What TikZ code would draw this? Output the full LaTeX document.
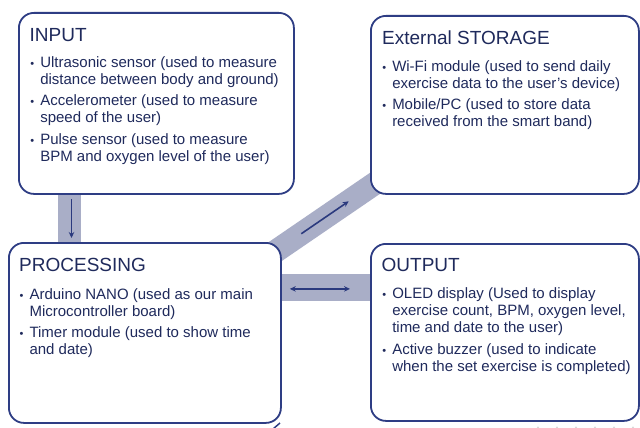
\documentclass[tikz,border=0pt]{standalone}
\usepackage{fontspec}
\setmainfont{Liberation Sans}
\usetikzlibrary{arrows.meta,calc,backgrounds}
\definecolor{navy}{HTML}{2E3D84}
\definecolor{ink}{HTML}{1F2A5C}
\definecolor{bandc}{HTML}{A9AEC7}
\definecolor{arrowc}{HTML}{2B3A7E}
\newcommand\bul{{\fontsize{11}{11}\selectfont\textbullet}}
\begin{document}
\begin{tikzpicture}[x=1pt,y=-1pt,
  panel/.style={draw=navy,line width=1.8pt,rounded corners=15pt,fill=white,inner sep=0pt,anchor=north west},
  title/.style={anchor=base west,inner sep=0pt,text=ink,font=\fontsize{19}{22}\selectfont},
  body/.style={anchor=base west,inner sep=0pt,text=ink,font=\fontsize{15}{17}\selectfont},
  band/.style={draw=bandc,line cap=butt},
  flow/.style={draw=arrowc,line width=1.6pt,-{Stealth[length=6pt,width=5.5pt]}},
  flow2/.style={draw=arrowc,line width=1.6pt,{Stealth[length=6pt,width=5.5pt]}-{Stealth[length=6pt,width=5.5pt]}}]
\useasboundingbox (0,0) rectangle (640,428);

% panels
\node[panel,minimum width=275pt,minimum height=181pt] (input) at (18,12) {};
\node[panel,minimum width=268pt,minimum height=178pt] (stor) at (370,15) {};
\node[panel,minimum width=272pt,minimum height=180pt] (proc) at (8,242) {};
\node[panel,minimum width=268pt,minimum height=177pt] (out) at (370,243) {};

% bands behind panels
\begin{scope}[on background layer]
\fill[white] (0,0) rectangle (640,428);
\coordinate (v1) at ($(input.south west)+(51.5,-5)$);
\coordinate (v2) at ($(proc.north west)+(61.5,5)$);
\coordinate (d1) at ($(proc.north east)+(-16,16)$);
\coordinate (d2) at ($(stor.south west)+(16,-19)$);
\coordinate (h1) at ($(proc.east)+(-5,-45.5)$);
\coordinate (h2) at ($(out.west)+(5,-45)$);
\draw[band,line width=23pt] (v1) -- (v2);
\draw[band,line width=23pt] (d1) -- (d2);
\draw[band,line width=27pt] (h1) -- (h2);
\end{scope}

% arrows
\coordinate (va) at ($(input.south west)+(53.5,4)$);
\coordinate (vb) at ($(proc.north west)+(63.5,-4)$);
\coordinate (da) at ($(d1)!0.295!(d2)$);
\coordinate (db) at ($(d1)!0.69!(d2)$);
\coordinate (ha) at ($(proc.east)+(8,-44)$);
\coordinate (hb) at ($(out.west)+(-20,-43.5)$);
\draw[flow] (va) -- (vb);
\draw[flow] (da) -- (db);
\draw[flow2] (ha) -- (hb);

% titles
\node[title] (tin) at (29.5,42) {INPUT};
\node[title] (tst) at (382,45) {External STORAGE};
\node[title] (tpr) at (19,271.7) {PROCESSING};
\node[title] (tou) at (381.5,271.7) {OUTPUT};

% bodies
\node[body] (bin) at (30.2,67.3) {\begin{tabular}[t]{@{}l@{\hspace{6pt}}l@{}}
\bul & Ultrasonic sensor (used to measure\\
 & distance between body and ground)\\[4.5pt]
\bul & Accelerometer (used to measure\\
 & speed of the user)\\[4.5pt]
\bul & Pulse sensor (used to measure\\
 & BPM and oxygen level of the user)
\end{tabular}};
\node[body] (bst) at (382.2,71.3) {\begin{tabular}[t]{@{}l@{\hspace{6pt}}l@{}}
\bul & Wi-Fi module (used to send daily\\
 & exercise data to the user’s device)\\[4.5pt]
\bul & Mobile/PC (used to store data\\
 & received from the smart band)
\end{tabular}};
\node[body] (bpr) at (19.5,299) {\begin{tabular}[t]{@{}l@{\hspace{6pt}}l@{}}
\bul & Arduino NANO (used as our main\\
 & Microcontroller board)\\[4.5pt]
\bul & Timer module (used to show time\\
 & and date)
\end{tabular}};
\node[body] (bou) at (382.2,298.5) {\begin{tabular}[t]{@{}l@{\hspace{6pt}}l@{}}
\bul & OLED display (Used to display\\
 & exercise count, BPM, oxygen level,\\
 & time and date to the user)\\[4.5pt]
\bul & Active buzzer (used to indicate\\
 & when the set exercise is completed)
\end{tabular}};

% cut-off fragments at the lower edge
\draw[navy,line width=1.5pt] (273,429) -- (280,423);
\foreach \x in {538,557,...,635} \fill[black!15] (\x,427.5) circle (1.1pt);
\end{tikzpicture}
\end{document}
